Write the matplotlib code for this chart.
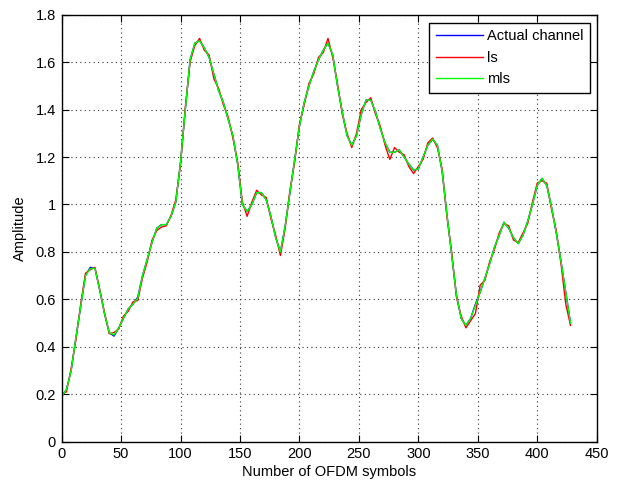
import numpy as np
import matplotlib
matplotlib.use("Agg")
import matplotlib.pyplot as plt

# channel amplitude read every 4 OFDM symbols
symbols = np.arange(0, 432, 4)

actual = [0.19, 0.22, 0.30, 0.44, 0.57, 0.70, 0.735, 0.73, 0.64, 0.54,
          0.46, 0.445, 0.48, 0.52, 0.56, 0.58, 0.61, 0.70, 0.77, 0.84,
          0.90, 0.915, 0.915, 0.95, 1.01, 1.18, 1.40, 1.61, 1.68, 1.69,
          1.66, 1.62, 1.55, 1.48, 1.43, 1.36, 1.29, 1.17, 1.00, 0.97,
          1.00, 1.05, 1.05, 1.02, 0.95, 0.86, 0.80, 0.91, 1.05, 1.19,
          1.33, 1.43, 1.50, 1.56, 1.61, 1.65, 1.68, 1.63, 1.50, 1.39,
          1.29, 1.25, 1.29, 1.38, 1.44, 1.44, 1.39, 1.32, 1.26, 1.22,
          1.22, 1.23, 1.20, 1.17, 1.145, 1.15, 1.20, 1.25, 1.275, 1.25,
          1.14, 0.96, 0.79, 0.62, 0.52, 0.49, 0.52, 0.58, 0.63, 0.69,
          0.75, 0.82, 0.87, 0.925, 0.90, 0.86, 0.835, 0.87, 0.93, 1.00,
          1.08, 1.11, 1.08, 0.99, 0.88, 0.76, 0.63, 0.50]

ls = [0.20, 0.21, 0.31, 0.43, 0.58, 0.71, 0.725, 0.735, 0.64, 0.545,
      0.455, 0.46, 0.475, 0.53, 0.55, 0.59, 0.595, 0.69, 0.76, 0.85,
      0.89, 0.905, 0.91, 0.955, 1.02, 1.17, 1.41, 1.60, 1.67, 1.70,
      1.65, 1.63, 1.53, 1.49, 1.42, 1.37, 1.28, 1.18, 1.01, 0.95,
      1.01, 1.06, 1.04, 1.03, 0.94, 0.87, 0.785, 0.90, 1.06, 1.18,
      1.34, 1.42, 1.51, 1.55, 1.62, 1.64, 1.70, 1.62, 1.51, 1.38,
      1.30, 1.24, 1.30, 1.40, 1.43, 1.45, 1.38, 1.33, 1.25, 1.19,
      1.24, 1.22, 1.21, 1.16, 1.13, 1.16, 1.19, 1.26, 1.28, 1.24,
      1.15, 0.95, 0.80, 0.61, 0.53, 0.48, 0.51, 0.54, 0.66, 0.68,
      0.76, 0.81, 0.88, 0.92, 0.91, 0.85, 0.84, 0.88, 0.92, 1.01,
      1.09, 1.10, 1.09, 0.98, 0.89, 0.75, 0.58, 0.49]

mls = [0.19, 0.22, 0.30, 0.44, 0.57, 0.70, 0.73, 0.73, 0.64, 0.54,
       0.46, 0.45, 0.48, 0.52, 0.56, 0.58, 0.605, 0.70, 0.77, 0.84,
       0.90, 0.915, 0.915, 0.95, 1.01, 1.18, 1.40, 1.61, 1.68, 1.69,
       1.66, 1.62, 1.55, 1.48, 1.43, 1.36, 1.29, 1.17, 1.00, 0.97,
       1.00, 1.05, 1.05, 1.02, 0.95, 0.86, 0.80, 0.91, 1.05, 1.19,
       1.33, 1.43, 1.50, 1.56, 1.61, 1.65, 1.68, 1.63, 1.50, 1.39,
       1.29, 1.25, 1.29, 1.38, 1.44, 1.44, 1.39, 1.32, 1.26, 1.22,
       1.22, 1.23, 1.20, 1.17, 1.145, 1.15, 1.20, 1.25, 1.275, 1.25,
       1.14, 0.96, 0.79, 0.62, 0.52, 0.49, 0.52, 0.575, 0.63, 0.69,
       0.75, 0.82, 0.87, 0.925, 0.90, 0.86, 0.835, 0.87, 0.93, 1.00,
       1.08, 1.11, 1.08, 0.99, 0.88, 0.76, 0.63, 0.50]

plt.rcParams['font.family'] = ['Liberation Sans', 'DejaVu Sans']
plt.rcParams['font.size'] = 10.5

fig = plt.figure(figsize=(6.18, 4.83), dpi=100)
ax = fig.add_axes([0.0998, 0.0855, 0.8657, 0.8841])

ax.plot(symbols, actual, color='#0000ff', lw=1.0, label='Actual channel')
ax.plot(symbols, ls, color='#ff0000', lw=1.0, label='ls')
ax.plot(symbols, mls, color='#00ff00', lw=1.0, label='mls')

ax.set_xlim(0, 450)
ax.set_ylim(0, 1.8)
ax.set_xticks(np.arange(0, 451, 50))
ax.set_yticks(np.arange(0, 1.81, 0.2))
ax.set_yticklabels(['0', '0.2', '0.4', '0.6', '0.8', '1', '1.2', '1.4', '1.6', '1.8'])
ax.tick_params(direction='in', length=5, top=True, right=True, pad=4)
ax.grid(True, linestyle=(0, (1, 3)), color='#333333', linewidth=0.8)
for s in ax.spines.values():
    s.set_linewidth(1.0)

ax.set_xlabel('Number of OFDM symbols', labelpad=3)
ax.set_ylabel('Amplitude', labelpad=6)

leg = ax.legend(loc='upper right', bbox_to_anchor=(0.9875, 0.981),
                borderaxespad=0, fancybox=False, handlelength=3.2,
                handletextpad=0.3, labelspacing=0.5, borderpad=0.45)
leg.get_frame().set_edgecolor('black')
leg.get_frame().set_linewidth(1.0)
leg.get_frame().set_alpha(1)

fig.savefig('out.png', dpi=100)
